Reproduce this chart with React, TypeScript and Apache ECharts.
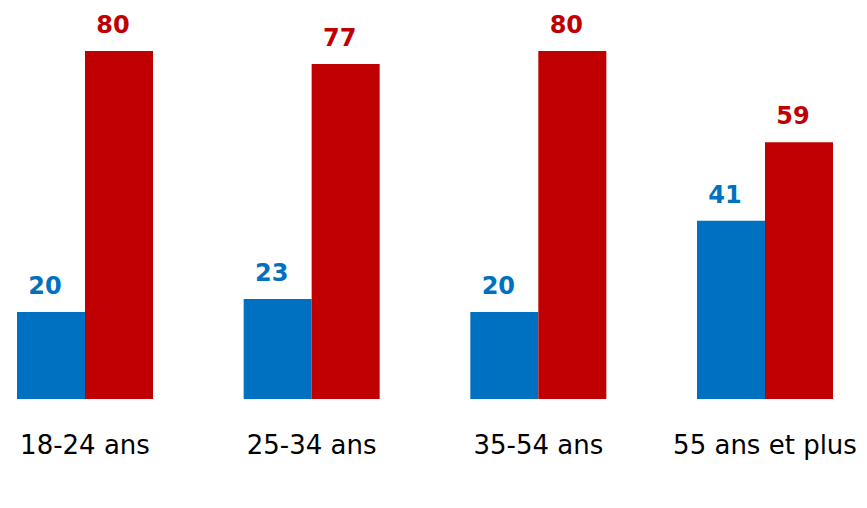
import React, { useEffect, useRef } from "react";
import * as echarts from "echarts";

const categories = ["18-24 ans", "25-34 ans", "35-54 ans", "55 ans et plus"];
const blueValues = [20, 23, 20, 41];
const redValues = [80, 77, 80, 59];

const BLUE = "#0070C0";
const RED = "#C00000";

export default function App() {
  const ref = useRef<HTMLDivElement>(null);
  useEffect(() => {
    if (!ref.current) return;
    const chart = echarts.init(ref.current, null, { renderer: "svg" });
    const labelStyle = (color: string) => ({
      show: true,
      position: "top" as const,
      distance: 14,
      offset: [-6, 0],
      color,
      fontFamily: "DejaVu Sans",
      fontWeight: "bold" as const,
      fontSize: 24,
    });
    chart.setOption({
      animation: false,
      grid: { left: 85, right: 102, top: 51, bottom: 109, containLabel: false },
      xAxis: {
        type: "category",
        data: categories,
        boundaryGap: false,
        axisLine: { show: false },
        axisTick: { show: false },
        splitLine: { show: false },
        axisLabel: {
          color: "#000",
          fontFamily: "DejaVu Sans",
          fontSize: 26,
          margin: 33,
          interval: 0,
        },
      },
      yAxis: {
        type: "value",
        min: 0,
        max: 80,
        show: false,
        splitLine: { show: false },
      },
      series: [
        {
          type: "bar",
          data: blueValues,
          barWidth: 68,
          barGap: "0%",
          clip: false,
          itemStyle: { color: BLUE },
          label: labelStyle(BLUE),
        },
        {
          type: "bar",
          data: redValues,
          barWidth: 68,
          barGap: "0%",
          clip: false,
          itemStyle: { color: RED },
          label: labelStyle(RED),
        },
      ],
    });
    return () => chart.dispose();
  }, []);
  return <div ref={ref} style={{ width: 867, height: 508, margin: -8 }} />;
}
